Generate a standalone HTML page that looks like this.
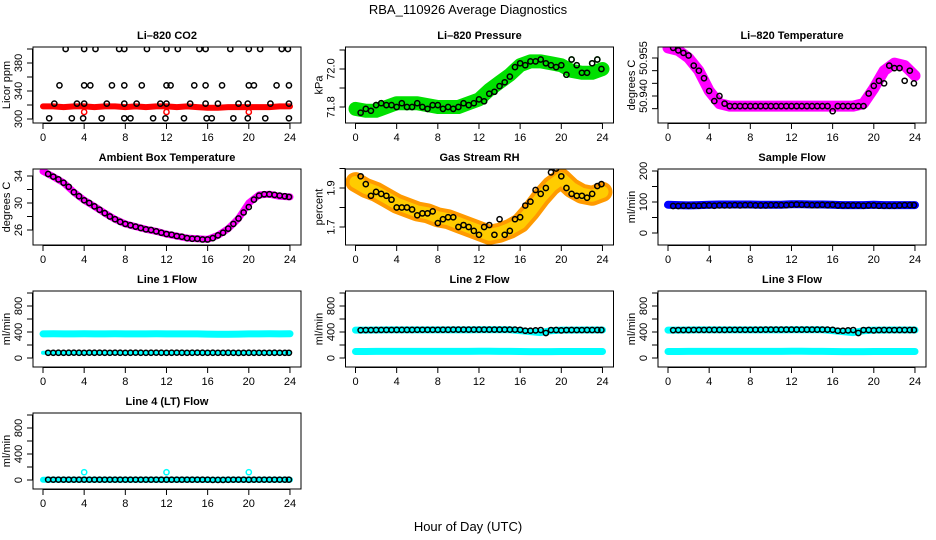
<!DOCTYPE html>
<html><head><meta charset="utf-8"><style>
body{margin:0;background:#fff}
svg{display:block;font-family:"Liberation Sans",Arial,sans-serif}
</style></head><body>
<svg id="chart" width="936" height="540" viewBox="0 0 936 540" xmlns="http://www.w3.org/2000/svg">
<rect width="936" height="540" fill="#fff"/>
<text x="468" y="14" text-anchor="middle" font-size="13">RBA_110926  Average Diagnostics</text>
<text x="468" y="531" text-anchor="middle" font-size="13">Hour of Day (UTC)</text>
</svg>
<script>
// hourly band hours and half-hour point hours
const bandHours = [0,1,2,3,4,5,6,7,8,9,10,11,12,13,14,15,16,17,18,19,20,21,22,23,24];
const ptHours = [0.5,1,1.5,2,2.5,3,3.5,4,4.5,5,5.5,6,6.5,7,7.5,8,8.5,9,9.5,10,10.5,11,11.5,12,12.5,13,13.5,14,14.5,15,15.5,16,16.5,17,17.5,18,18.5,19,19.5,20,20.5,21,21.5,22,22.5,23,23.5,23.9];
const xTicks = [0,4,8,12,16,20,24];

// CO2
const co2Band = [318,318,317,318,318,317,318,318,317,318,317,318,318,317,318,317,316,316,317,317,317,317,317,318,318];
const co2OutX = [4,12,20];
const co2OutY = [310,310,310];
const co2BlkX = [2.2,4,5.1,7.4,7.9,10.1,12,13.1,15.2,15.8,18.2,20,21.1,23.2,23.8, 1.6,4,4.6,6.7,7.9,9.6,12,12.4,14.7,15.8,17.4,20,20.5,22.7,23.9, 1.1,3.3,4,6.2,7.9,9.1,11.4,12,14.3,15.8,17,19,19.9,22.1,23.9, 0.6,2.8,3.9,5.7,7.9,8.5,10.7,11.9,13.7,15.9,16.4,18.5,19.9,21.6,23.9];
const co2BlkY = [400,400,400,400,400,400,400,400,400,400,400,400,400,400,400, 348,348,348,348,348,348,348,348,348,348,348,348,348,348,348, 322,322,322,322,322,322,322,322,322,322,322,322,322,322,322, 301,301,301,301,301,301,301,301,301,301,301,301,301,301,301];

// Pressure
const presBand = [71.79,71.78,71.78,71.80,71.82,71.82,71.82,71.81,71.80,71.80,71.80,71.82,71.84,71.89,71.93,71.97,72.02,72.04,72.04,72.03,72.02,71.99,71.98,71.98,72.00];
const presBlk = [71.77,71.79,71.78,71.81,71.82,71.81,71.81,71.80,71.82,71.80,71.80,71.82,71.80,71.79,71.81,71.81,71.79,71.80,71.79,71.80,71.82,71.81,71.82,71.84,71.83,71.87,71.88,71.91,71.93,71.96,72.01,72.03,72.02,72.04,72.04,72.05,72.03,72.02,72.01,72.02,71.97,72.05,72.02,71.98,71.98,72.03,72.05,72.00];

// Li-820 temperature
const tempBand = [50.959,50.958,50.955,50.950,50.942,50.937,50.936,50.936,50.936,50.936,50.936,50.936,50.936,50.936,50.936,50.936,50.936,50.936,50.936,50.937,50.943,50.950,50.953,50.952,50.948];
const tempBlk = [50.959,50.958,50.957,50.956,50.952,50.950,50.947,50.942,50.938,50.940,50.937,50.936,50.936,50.936,50.936,50.936,50.936,50.936,50.936,50.936,50.936,50.936,50.936,50.936,50.936,50.936,50.936,50.936,50.936,50.936,50.936,50.934,50.936,50.936,50.936,50.936,50.936,50.936,50.941,50.944,50.946,50.945,50.952,50.951,50.951,50.946,50.950,50.945];

// Ambient box temperature
const ambBand = [34.7,33.9,33.0,31.6,30.4,29.5,28.5,27.6,26.9,26.5,26.1,25.8,25.4,25.1,24.8,24.7,24.6,25.2,26.2,27.7,30.0,31.2,31.3,31.0,30.9];
const ambBlk = [34.3,33.9,33.5,33.0,32.4,31.6,31.0,30.4,30.0,29.5,29.0,28.5,28.0,27.6,27.2,26.9,26.7,26.5,26.3,26.1,26.0,25.8,25.6,25.4,25.3,25.1,25.0,24.8,24.7,24.7,24.6,24.6,24.8,25.2,25.6,26.2,26.9,27.7,28.6,29.4,30.5,31.1,31.3,31.3,31.2,31.1,31.0,30.9];

// Gas stream RH
const rhBand = [1.93,1.90,1.88,1.85,1.82,1.80,1.78,1.77,1.75,1.74,1.72,1.70,1.68,1.66,1.67,1.69,1.72,1.78,1.85,1.91,1.95,1.90,1.87,1.86,1.88];
const rhBlk = [1.96,1.92,1.86,1.88,1.87,1.86,1.84,1.80,1.80,1.80,1.79,1.76,1.77,1.77,1.78,1.72,1.74,1.75,1.75,1.70,1.71,1.70,1.68,1.66,1.70,1.71,1.66,1.74,1.66,1.68,1.74,1.75,1.81,1.83,1.89,1.87,1.90,1.98,2.0,1.96,1.90,1.87,1.86,1.86,1.85,1.87,1.91,1.92];

// Sample flow
const sampBand = [91,90,89,90,91,92,92,92,92,91,91,91,93,93,92,92,91,90,90,90,91,90,90,90,90];
const sampBlk = [87,87,88,88,88,88,89,89,88,89,89,89,90,89,90,90,89,89,89,90,90,90,90,91,92,91,91,90,90,91,90,91,89,89,89,89,89,88,89,89,88,88,88,88,89,90,90,90];

// Line flows
const l1Cyan = [370,372,370,371,372,370,371,372,371,370,371,372,370,371,371,370,368,366,365,368,370,371,372,371,372];
const l1Blk = [80,80,81,80,81,82,81,80,82,81,82,81,80,82,81,80,81,82,81,80,81,82,81,80,81,82,81,80,81,82,81,80,81,80,80,81,80,79,80,81,80,80,80,80,81,80,80,80];
const l2CyanHi = [430,430,431,432,432,432,432,432,433,433,433,433,434,434,434,434,420,405,390,420,430,430,431,431,431];
const l2CyanLo = [100,100,101,101,101,101,101,101,102,102,102,102,103,103,102,102,100,99,98,99,100,100,100,100,100];
const l2Blk = [428,430,430,431,432,432,432,433,433,433,433,434,434,434,434,434,435,435,436,436,436,436,436,437,437,437,437,436,437,437,436,434,420,420,425,430,385,430,431,425,430,431,430,430,431,431,431,431];
const l3CyanHi = [430,430,431,432,432,432,432,432,433,433,433,433,434,434,434,434,420,405,390,420,430,430,431,431,431];
const l3CyanLo = [100,100,101,101,101,101,101,101,102,102,102,102,103,103,102,102,100,99,98,99,100,100,100,100,100];
const l3Blk = [428,430,430,431,432,432,432,433,433,433,433,434,434,434,434,434,435,435,436,436,436,436,436,437,437,437,437,436,437,437,436,434,420,420,425,430,385,430,431,425,430,431,430,430,431,431,431,431];
const l4Cyan = [5,5,5,5,5,5,5,5,5,5,5,5,5,5,5,5,2,2,3,5,5,5,5,5,5];
const l4Blk = [5,5,5,5,5,5,5,5,5,5,5,5,5,5,5,5,5,5,5,5,5,5,5,5,5,5,5,5,5,5,5,5,2,2,2,4,5,5,5,4,5,5,5,5,5,5,5,5];
const l4OutX = [4,12,20];
const l4OutY = [120,120,120];

const NS = 'http://www.w3.org/2000/svg';
const svg = document.getElementById('chart');
function mk(tag, attrs, parent){ const e=document.createElementNS(NS,tag); for(const k in attrs) e.setAttribute(k,attrs[k]); (parent||svg).appendChild(e); return e; }

let clipId = 0;
function panel(name, col, row, title, ylab, ref, ticks, labels){
  const L = 33 + col*312.5, R = 301 + col*312.5;
  const T = 47 + row*122, B = T + 76;
  const x0 = 43 + col*312.5, pxh = 10.29;
  const xs = h => x0 + h*pxh;
  const ys = v => ref[1] + (v - ref[0])*(ref[3]-ref[1])/(ref[2]-ref[0]) + row*122;
  const g = mk('g', {});
  
  
  const cid = 'clip' + (clipId++);
  const cp = mk('clipPath', {id: cid}, g);
  mk('rect', {x: L, y: T, width: R-L, height: B-T}, cp);
  const marks = mk('g', {'clip-path': 'url(#' + cid + ')'}, g);
  
  
  const box = mk('rect', {x: L, y: T, width: R-L, height: B-T, fill: 'none', stroke: '#000', 'stroke-width': 1}, g);
  
  
  const t = mk('text', {x: (L+R)/2, y: T-8, 'text-anchor': 'middle', 'font-size': 11, 'font-weight': 'bold'}, g);
  t.textContent = title;
  
  
  mk('line', {x1: xs(0), x2: xs(24), y1: B+0.5, y2: B+0.5, stroke: '#000'}, g);
  xTicks.forEach(v => {
    mk('line', {x1: xs(v), x2: xs(v), y1: B, y2: B+6, stroke: '#000'}, g);
    const tl = mk('text', {x: xs(v), y: B+18, 'text-anchor': 'middle', 'font-size': 11}, g);
    tl.textContent = v;
    
    
  });
  const yv = ticks.map(ys);
  mk('line', {x1: L-0.5, x2: L-0.5, y1: Math.min(...yv), y2: Math.max(...yv), stroke: '#000'}, g);
  ticks.forEach(v => {
    mk('line', {x1: L-6, x2: L, y1: ys(v), y2: ys(v), stroke: '#000'}, g);
  });
  labels.forEach(v => {
    const tl = mk('text', {x: 0, y: 0, 'text-anchor': 'middle', 'font-size': 11, transform: 'translate(' + (L-11) + ',' + ys(v) + ') rotate(-90)'}, g);
    tl.textContent = v;
    
    
  });
  const yl = mk('text', {x: 0, y: 0, 'text-anchor': 'middle', 'font-size': 11, transform: 'translate(' + (L-23) + ',' + ((T+B)/2) + ') rotate(-90)'}, g);
  yl.textContent = ylab;
  
  
  return {xs, ys, g: marks};
}
function band(p, hours, vals, color, w, name){
  const pts = hours.map((h,i) => p.xs(h).toFixed(1) + ',' + p.ys(vals[i]).toFixed(1)).join(' ');
  const pl = mk('polyline', {points: pts, fill: 'none', stroke: color, 'stroke-width': w, 'stroke-linejoin': 'round', 'stroke-linecap': 'round'}, p.g);
  
  
}
function dots(p, hours, vals, color, name){
  hours.forEach((h,i) => {
    const c = mk('circle', {cx: p.xs(h), cy: p.ys(vals[i]), r: 2.6, fill: 'none', stroke: color, 'stroke-width': 1.5}, p.g);
    
    
  });
}

const flowRef = [0,114,800,62];
const flowTicks = [0,200,400,600,800,1000];
const flowLabels = [0,400,800];
let p;
p = panel('co2', 0, 0, 'Li\u2013820 CO2', 'Licor ppm', [300,119,380,63], [300,320,340,360,380,400], [300,340,380]);
band(p, bandHours, co2Band, '#ff0000', 6, 'co2-band'); dots(p, co2OutX, co2OutY, '#ff0000', 'co2-red-point'); dots(p, co2BlkX, co2BlkY, '#000', 'co2-point');

p = panel('pressure', 1, 0, 'Li\u2013820 Pressure', 'kPa', [72.0,69,71.8,107], [71.8,71.9,72.0,72.1], ['71.8','72.0']);
band(p, bandHours, presBand, '#00e000', 14, 'pressure-band'); dots(p, ptHours, presBlk, '#00e000', 'pressure-green-point'); dots(p, ptHours, presBlk, '#000', 'pressure-point');

p = panel('li820-temp', 2, 0, 'Li\u2013820 Temperature', 'degrees C', [50.955,58,50.940,96], [50.935,50.940,50.945,50.950,50.955], ['50.940','50.955']);
band(p, bandHours, tempBand, '#ff00ff', 11, 'li820-temp-band'); dots(p, ptHours, tempBlk, '#000', 'li820-temp-point');

p = panel('ambient', 0, 1, 'Ambient Box Temperature', 'degrees C', [34,54,26,108], [26,28,30,32,34], [26,30,34]);
band(p, bandHours, ambBand, '#ff00ff', 7, 'ambient-band'); dots(p, ptHours, ambBlk, '#000', 'ambient-point');

p = panel('rh', 1, 1, 'Gas Stream RH', 'percent', [1.9,66,1.7,105], [1.7,1.8,1.9,2.0], ['1.7','1.9']);
band(p, bandHours, rhBand, '#ff9a00', 20, 'rh-band-outer'); band(p, bandHours, rhBand, '#ffcc00', 12, 'rh-band-inner'); dots(p, ptHours, rhBlk, '#000', 'rh-point');

p = panel('sample-flow', 2, 1, 'Sample Flow', 'ml/min', [200,49,0,111], [0,50,100,150,200], [0,100,200]);
band(p, bandHours, sampBand, '#0000ff', 8, 'sample-flow-band'); dots(p, ptHours, sampBlk, '#000', 'sample-flow-point');

p = panel('line1', 0, 2, 'Line 1 Flow', 'ml/min', flowRef, flowTicks, flowLabels);
band(p, bandHours, l1Cyan, '#00ffff', 7, 'line1-cyan-band'); band(p, bandHours, l1Blk.slice(0,25), '#00ffff', 4, 'line1-cyan-low'); dots(p, ptHours, l1Blk, '#000', 'line1-point');

p = panel('line2', 1, 2, 'Line 2 Flow', 'ml/min', flowRef, flowTicks, flowLabels);
band(p, bandHours, l2CyanHi, '#00ffff', 7, 'line2-cyan-high'); band(p, bandHours, l2CyanLo, '#00ffff', 7, 'line2-cyan-low'); dots(p, ptHours, l2Blk, '#000', 'line2-point');

p = panel('line3', 2, 2, 'Line 3 Flow', 'ml/min', flowRef, flowTicks, flowLabels);
band(p, bandHours, l3CyanHi, '#00ffff', 7, 'line3-cyan-high'); band(p, bandHours, l3CyanLo, '#00ffff', 7, 'line3-cyan-low'); dots(p, ptHours, l3Blk, '#000', 'line3-point');

p = panel('line4', 0, 3, 'Line 4 (LT) Flow', 'ml/min', flowRef, flowTicks, flowLabels);
band(p, bandHours, l4Cyan, '#00ffff', 6, 'line4-cyan-band'); dots(p, l4OutX, l4OutY, '#00ffff', 'line4-cyan-outlier'); dots(p, ptHours, l4Blk, '#000', 'line4-point');
</script>
</body></html>
